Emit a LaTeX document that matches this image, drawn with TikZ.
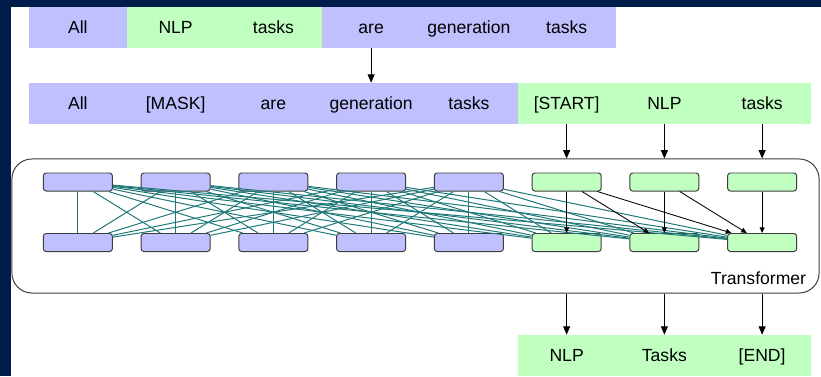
\documentclass[tikz,border=0pt]{standalone}
\usepackage{fontspec}
\setmainfont{Liberation Sans}
\usetikzlibrary{arrows.meta,positioning,calc}

\definecolor{slidebg}{RGB}{0,28,75}
\definecolor{maskfill}{RGB}{192,192,255}
\definecolor{genfill}{RGB}{192,255,192}
\definecolor{attline}{RGB}{30,120,120}
\definecolor{framegray}{RGB}{60,60,60}

\begin{document}
\begin{tikzpicture}[
    x=0.025cm, y=-0.025cm,
    tok/.style={rectangle, minimum width=2.444cm, minimum height=1.025cm, inner sep=0pt, text height=10pt, text depth=1.5pt, font=\fontsize{12.5}{14}\selectfont},
    unit/.style={rectangle, draw=framegray, rounded corners=2pt, line width=0.7pt, minimum width=1.725cm, minimum height=0.45cm, inner sep=0pt},
    frame/.style={rectangle, draw=framegray, rounded corners=0.5cm, line width=0.7pt, minimum width=20.175cm, minimum height=3.35cm},
    arr/.style={-{Triangle[length=6pt, width=5pt]}, line width=0.7pt},
    att/.style={attline, line width=0.7pt},
    causal/.style={-{Triangle[length=4pt, width=3.5pt]}, line width=0.6pt},
]
    \useasboundingbox (0,0) rectangle (821,376);
    \fill[slidebg] (0,0) rectangle (821,376);
    \fill[white] (11,7) rectangle (821,376);

    % masked input sentence
    \foreach \w [count=\i] in {All,NLP,tasks,are,generation,tasks}
        \node[tok, fill=maskfill] (s\i) at ({29+97.75*(\i-0.5)},27.5) {\w};
    \foreach \i in {2,3}
        \node[tok, fill=genfill] at (s\i) {};
    \node[tok] at (s2) {NLP};
    \node[tok] at (s3) {tasks};

    % encoder input + decoder input
    \foreach \w [count=\i] in {All,[MASK],are,generation,tasks}
        \node[tok, fill=maskfill] (in\i) at ({29+97.75*(\i-0.5)},103.5) {\w};
    \foreach \w [count=\i from 6] in {[START],NLP,tasks}
        \node[tok, fill=genfill] (in\i) at ({29+97.75*(\i-0.5)},103.5) {\w};

    \draw[arr] (s4) -- (in4);

    % transformer block
    \node[frame] (tf) at (415.5,226) {};
    \node[anchor=base east, font=\fontsize{12.5}{14}\selectfont] (tflabel) at (811,284) {Transformer};

    \foreach \i in {1,...,5} {
        \node[unit, fill=maskfill] (t\i) at ({29+97.75*(\i-0.5)},182) {};
        \node[unit, fill=maskfill] (b\i) at ({29+97.75*(\i-0.5)},242.5) {};
    }
    \foreach \i in {6,7,8} {
        \node[unit, fill=genfill] (t\i) at ({29+97.75*(\i-0.5)},182) {};
        \node[unit, fill=genfill] (b\i) at ({29+97.75*(\i-0.5)},242.5) {};
    }

    % bidirectional part
    \foreach \i in {1,...,5}
        \foreach \j in {1,...,8}
            \draw[att] (t\i) -- (b\j);

    % left-to-right part
    \foreach \i in {6,7,8}
        \foreach \j in {\i,...,8}
            \draw[causal] (t\i) -- (b\j);

    \foreach \i in {6,7,8}
        \draw[arr] (in\i) -- (in\i |- tf.north);

    % output sentence
    \foreach \w [count=\i from 6] in {NLP,Tasks,[END]}
        \node[tok, fill=genfill] (out\i) at ({29+97.75*(\i-0.5)},355.5) {\w};
    \foreach \i in {6,7,8}
        \draw[arr] (tf.south -| out\i) -- (out\i);
\end{tikzpicture}
\end{document}
